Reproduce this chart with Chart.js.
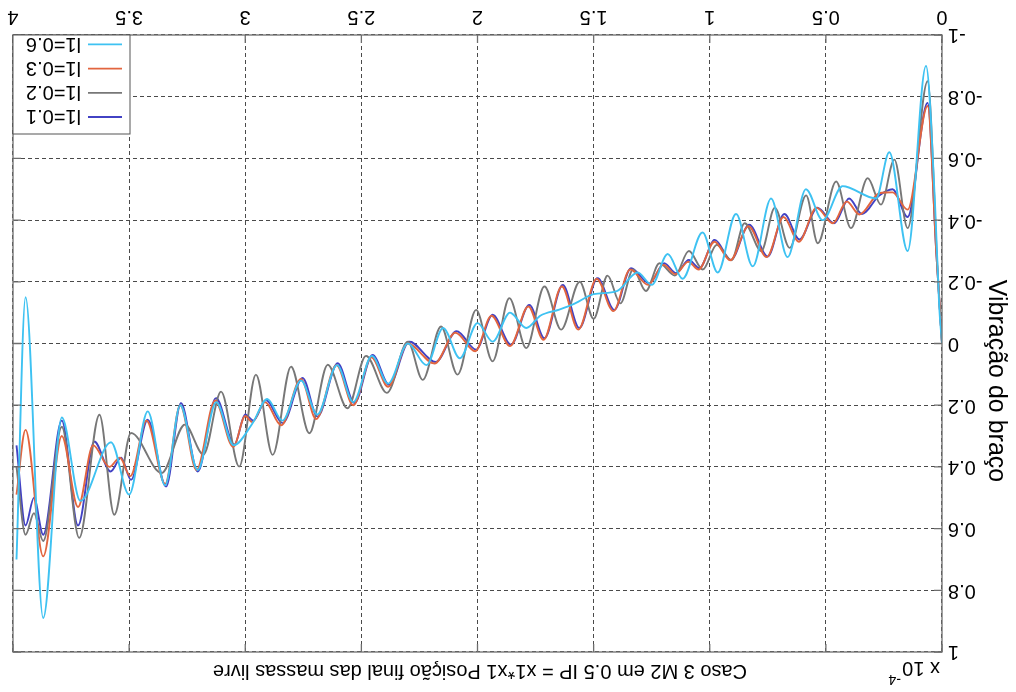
<!DOCTYPE html>
<html>
<head>
<meta charset="utf-8">
<script src="https://cdn.jsdelivr.net/npm/chart.js@4/dist/chart.umd.min.js"></script>
<style>
  html, body { margin: 0; padding: 0; background: #fff; }
  /* the reference picture is upside down, so the whole chart is turned round */
  #wrap { width: 1016px; height: 692px; transform: rotate(180deg); }
</style>
</head>
<body>
<div id="wrap"><canvas id="chart" width="1016" height="692"></canvas></div>
<script>
const titleText = 'Caso 3 M2 em 0.5 IP = x1*x1 Posição final das massas livre';
const yTitle = 'Vibração do braço';
const xTicks = [0, 0.5, 1, 1.5, 2, 2.5, 3, 3.5, 4];
const yTicks = [-1, -0.8, -0.6, -0.4, -0.2, 0, 0.2, 0.4, 0.6, 0.8, 1];
const seriesNames = ['l1=0.1', 'l1=0.2', 'l1=0.3', 'l1=0.6'];
const seriesColors = ['#4242c4', '#777777', '#e2653f', '#3ec2f2'];

// [time, vibration], peaks and troughs
const l1_01 = [[0,0],[0.025,-0.30],[0.062,-0.78],[0.148,-0.41],[0.213,-0.50],[0.27,-0.48],[0.345,-0.42],[0.40,-0.47],
  [0.465,-0.39],[0.536,-0.44],[0.614,-0.337],[0.679,-0.42],[0.751,-0.282],[0.83,-0.385],[0.909,-0.271],[0.978,-0.336],
  [1.045,-0.244],[1.09,-0.271],[1.145,-0.228],[1.196,-0.26],[1.26,-0.195],[1.339,-0.244],[1.411,-0.109],[1.483,-0.212],
  [1.562,-0.05],[1.633,-0.19],[1.712,-0.017],[1.777,-0.125],[1.856,0.004],[1.935,-0.093],[2.006,0.02],[2.09,-0.04],
  [2.18,0.06],[2.294,-0.006],[2.38,0.134],[2.452,0.037],[2.53,0.193],[2.602,0.064],[2.689,0.237],[2.753,0.112],
  [2.839,0.258],[2.911,0.183],[2.965,0.25],[3.0,0.23],[3.047,0.328],[3.126,0.177],[3.205,0.415],[3.277,0.193],
  [3.341,0.464],[3.42,0.247],[3.492,0.442],[3.535,0.37],[3.58,0.415],[3.65,0.318],[3.72,0.59],[3.79,0.25],
  [3.87,0.62],[3.91,0.50],[3.946,0.59],[3.985,0.33]];
const l1_02 = [[0,0],[0.02,-0.25],[0.062,-0.85],[0.148,-0.374],[0.205,-0.596],[0.263,-0.45],[0.32,-0.536],[0.392,-0.374],
  [0.456,-0.525],[0.535,-0.325],[0.585,-0.48],[0.656,-0.31],[0.72,-0.44],[0.778,-0.30],[0.85,-0.39],[0.907,-0.27],
  [0.97,-0.32],[1.03,-0.24],[1.09,-0.30],[1.15,-0.22],[1.217,-0.26],[1.275,-0.17],[1.33,-0.24],[1.385,-0.13],
  [1.44,-0.22],[1.50,-0.08],[1.56,-0.20],[1.64,-0.045],[1.712,-0.185],[1.79,0.015],[1.863,-0.147],[1.935,0.058],
  [2.006,-0.109],[2.086,0.101],[2.157,-0.055],[2.236,0.118],[2.30,-0.006],[2.39,0.16],[2.48,0.04],[2.56,0.21],
  [2.645,0.069],[2.724,0.291],[2.803,0.075],[2.882,0.361],[2.954,0.101],[3.026,0.399],[3.104,0.156],[3.18,0.36],
  [3.26,0.263],[3.36,0.42],[3.492,0.29],[3.564,0.555],[3.628,0.231],[3.715,0.63],[3.79,0.27],[3.87,0.64],
  [3.91,0.55],[3.946,0.62],[3.985,0.40]];
const l1_03 = [[0,0],[0.025,-0.30],[0.062,-0.77],[0.148,-0.434],[0.213,-0.49],[0.27,-0.487],[0.356,-0.418],[0.41,-0.46],
  [0.47,-0.39],[0.54,-0.44],[0.617,-0.33],[0.682,-0.41],[0.755,-0.28],[0.833,-0.38],[0.912,-0.27],[0.98,-0.33],
  [1.048,-0.24],[1.093,-0.265],[1.148,-0.225],[1.2,-0.255],[1.265,-0.19],[1.343,-0.24],[1.415,-0.105],[1.487,-0.21],
  [1.566,-0.045],[1.637,-0.185],[1.716,-0.012],[1.781,-0.12],[1.86,0.008],[1.94,-0.09],[2.01,0.025],[2.095,-0.035],
  [2.185,0.065],[2.30,0.0],[2.385,0.14],[2.457,0.045],[2.535,0.20],[2.607,0.07],[2.695,0.245],[2.76,0.115],
  [2.845,0.265],[2.915,0.19],[2.97,0.255],[3.0,0.235],[3.052,0.335],[3.13,0.185],[3.21,0.41],[3.28,0.20],
  [3.345,0.455],[3.425,0.25],[3.495,0.43],[3.54,0.37],[3.585,0.40],[3.655,0.33],[3.72,0.53],[3.79,0.30],
  [3.87,0.69],[3.946,0.28],[3.985,0.49]];
const l1_06 = [[0,0],[0.012,-0.12],[0.03,-0.45],[0.069,-0.90],[0.148,-0.30],[0.227,-0.62],[0.284,-0.47],[0.428,-0.51],
  [0.514,-0.40],[0.586,-0.50],[0.665,-0.28],[0.736,-0.47],[0.815,-0.25],[0.887,-0.42],[0.966,-0.23],[1.031,-0.36],
  [1.117,-0.21],[1.181,-0.29],[1.25,-0.19],[1.31,-0.23],[1.40,-0.17],[1.50,-0.16],[1.58,-0.13],[1.648,-0.11],
  [1.73,-0.09],[1.79,-0.05],[1.86,-0.10],[1.935,-0.006],[2.0,-0.066],[2.076,0.048],[2.148,-0.05],[2.22,0.07],
  [2.30,0.0],[2.385,0.13],[2.455,0.04],[2.535,0.19],[2.605,0.07],[2.69,0.23],[2.76,0.12],[2.84,0.25],
  [2.905,0.18],[2.97,0.26],[3.05,0.33],[3.125,0.19],[3.205,0.41],[3.28,0.20],[3.345,0.46],[3.42,0.22],
  [3.50,0.49],[3.578,0.32],[3.71,0.51],[3.79,0.24],[3.87,0.89],[3.946,-0.15],[3.985,0.70]];

const allSeries = [l1_01, l1_02, l1_03, l1_06];
const FONT = '"Liberation Sans", Arial, sans-serif';

const matlabFrame = {
  id: 'matlabFrame',
  afterDatasetsDraw(chart) {
    const { ctx, chartArea: a, scales } = chart;
    ctx.save();
    ctx.strokeStyle = '#6e6e6e';
    ctx.lineWidth = 1.3;
    ctx.strokeRect(a.left, a.top, a.right - a.left, a.bottom - a.top);
    // inward ticks on all four sides
    ctx.beginPath();
    xTicks.forEach(v => {
      const x = scales.x.getPixelForValue(v);
      ctx.moveTo(x, a.bottom); ctx.lineTo(x, a.bottom - 8);
      ctx.moveTo(x, a.top); ctx.lineTo(x, a.top + 8);
    });
    yTicks.forEach(v => {
      const y = scales.y.getPixelForValue(v);
      ctx.moveTo(a.left, y); ctx.lineTo(a.left + 8, y);
      ctx.moveTo(a.right, y); ctx.lineTo(a.right - 8, y);
    });
    ctx.stroke();

    // legend box, bottom right corner
    const bx = 886, by = 558, bw = a.right - bx, bh = a.bottom - by;
    ctx.fillStyle = '#fff';
    ctx.fillRect(bx, by, bw, bh);
    ctx.strokeStyle = '#555';
    ctx.lineWidth = 1;
    ctx.strokeRect(bx, by, bw, bh);
    ctx.font = '20px ' + FONT;
    ctx.textBaseline = 'middle';
    ctx.textAlign = 'left';
    seriesNames.forEach((name, i) => {
      const y = 575 + i * 24.2;
      ctx.strokeStyle = seriesColors[i];
      ctx.lineWidth = 1.8;
      ctx.beginPath(); ctx.moveTo(894, y); ctx.lineTo(928, y); ctx.stroke();
      ctx.fillStyle = '#000';
      ctx.fillText(name, 935, y + 1);
    });
    ctx.restore();
  },
  afterDraw(chart) {
    const { ctx } = chart;
    ctx.save();
    ctx.fillStyle = '#000';
    ctx.font = '20px ' + FONT;
    ctx.textAlign = 'center';
    ctx.textBaseline = 'middle';
    ctx.fillText(titleText, 536, 21);
    // y axis title
    ctx.save();
    ctx.translate(20, 311);
    ctx.rotate(-Math.PI / 2);
    ctx.font = '25px ' + FONT;
    ctx.fillText(yTitle, 0, 0);
    ctx.restore();
    // exponent of the y axis
    ctx.textAlign = 'left';
    ctx.textBaseline = 'alphabetic';
    ctx.fillText('x 10', 76, 30);
    ctx.font = '14px ' + FONT;
    ctx.fillText('-4', 115, 17);
    ctx.restore();
  }
};

new Chart(document.getElementById('chart'), {
  type: 'line',
  data: {
    datasets: allSeries.map((s, i) => ({
      label: seriesNames[i],
      data: s.map(p => ({ x: p[0], y: p[1] })),
      borderColor: seriesColors[i],
      borderWidth: 1.9,
      pointRadius: 0,
      fill: false,
      cubicInterpolationMode: 'monotone',
      order: 4 - i
    }))
  },
  options: {
    responsive: false,
    animation: false,
    devicePixelRatio: 1,
    layout: { padding: { left: 0, right: 13, top: 40, bottom: 0 } },
    plugins: {
      legend: { display: false },
      tooltip: { enabled: false },
      title: { display: false }
    },
    scales: {
      x: {
        type: 'linear',
        min: 0,
        max: 4,
        afterFit: s => { s.height = 35; },
        afterBuildTicks: s => { s.ticks = xTicks.map(v => ({ value: v })); },
        grid: { color: '#4a4a4a', lineWidth: 1, drawTicks: false },
        border: { display: false, dash: [4, 3] },
        ticks: {
          padding: 6,
          maxRotation: 0,
          color: '#000',
          font: { family: FONT, size: 20 },
          callback: v => String(v)
        }
      },
      y: {
        type: 'linear',
        min: -1,
        max: 1,
        afterFit: s => { s.width = 74; },
        afterBuildTicks: s => { s.ticks = yTicks.map(v => ({ value: v })); },
        grid: { color: '#4a4a4a', lineWidth: 1, drawTicks: false },
        border: { display: false, dash: [4, 3] },
        ticks: {
          padding: 6,
          color: '#000',
          font: { family: FONT, size: 20 },
          callback: v => String(Number(v.toFixed(1)))
        }
      }
    }
  },
  plugins: [matlabFrame]
});
</script>
</body>
</html>
